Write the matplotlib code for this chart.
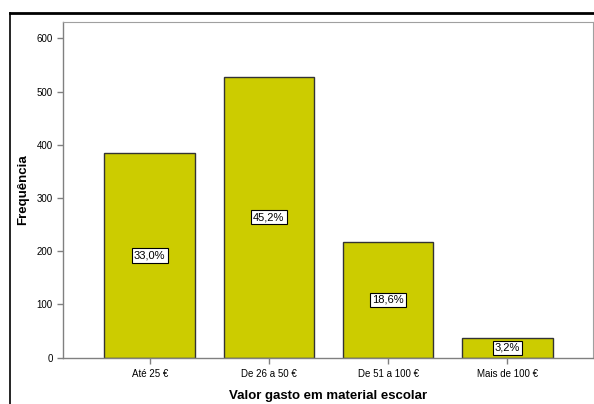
import matplotlib.pyplot as plt
from matplotlib.lines import Line2D

categories = ["Até 25 €", "De 26 a 50 €", "De 51 a 100 €", "Mais de 100 €"]
counts = [385, 528, 217, 37]
pct_labels = ["33,0%", "45,2%", "18,6%", "3,2%"]

plt.rcParams["font.family"] = ["Liberation Sans", "DejaVu Sans"]

fig = plt.figure(figsize=(5.94, 4.04), dpi=100)
ax = fig.add_axes([0.106, 0.1146, 0.892, 0.831])

x = list(range(len(categories)))
bars = ax.bar(x, counts, width=0.76, color="#cccc00", edgecolor="#333333", linewidth=1.0)

for b, lab in zip(bars, pct_labels):
    ax.text(b.get_x() + b.get_width() / 2, b.get_height() / 2, lab,
            ha="center", va="center", fontsize=8,
            bbox=dict(boxstyle="square,pad=0.2", facecolor="white", edgecolor="black", linewidth=0.8))

ax.set_xlim(-0.727, 3.716)
ax.set_ylim(0, 631)
ax.set_yticks([0, 100, 200, 300, 400, 500, 600])
ax.set_xticks(x)
ax.set_xticklabels(categories)
ax.tick_params(axis="both", direction="out", length=4, width=1, color="#808080", labelsize=7)
ax.tick_params(axis="x", pad=4)

for side in ["left", "bottom"]:
    ax.spines[side].set_color("#808080")
    ax.spines[side].set_linewidth(1.0)
for side in ["top", "right"]:
    ax.spines[side].set_color("#a0a0a0")
    ax.spines[side].set_linewidth(0.8)

ax.set_xlabel("Valor gasto em material escolar", fontsize=9.5, fontweight="bold", labelpad=8)
ax.set_ylabel("Frequência", fontsize=9.5, fontweight="bold", labelpad=5)

# outer black frame (top and left)
fig.add_artist(Line2D([9.5 / 594, 1.0], [1 - 12.7 / 404] * 2, transform=fig.transFigure,
                      color="black", linewidth=2))
fig.add_artist(Line2D([9.5 / 594] * 2, [0, 1 - 12.7 / 404], transform=fig.transFigure,
                      color="black", linewidth=1.2))

fig.savefig("out.png", dpi=100)
